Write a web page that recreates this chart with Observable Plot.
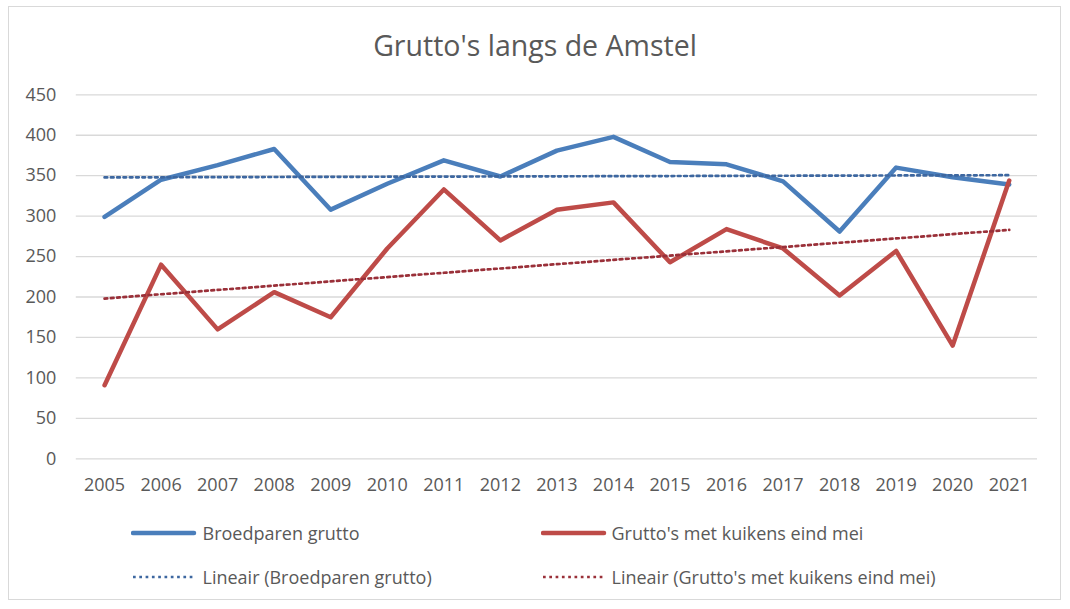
<!DOCTYPE html>
<html>
<head>
<meta charset="utf-8">
<script src="https://cdn.jsdelivr.net/npm/d3@7"></script>
<script src="https://cdn.jsdelivr.net/npm/@observablehq/plot@0.6"></script>
<style>
  html, body { margin: 0; padding: 0; background: #fff; }
  #wrap { position: relative; width: 1070px; height: 609px; overflow: hidden; font-family: "Open Sans", sans-serif; color: #595959; }
  #frame { position: absolute; left: 8px; top: 6px; width: 1053px; height: 594px; border: 1.5px solid #d9d9d9; box-sizing: border-box; }
  #title { position: absolute; left: 0; width: 1070px; top: 30.7px; text-align: center; font-size: 28.5px; line-height: 1; white-space: nowrap; }
  #chart { position: absolute; left: 0; top: 0; }
  .leg { position: absolute; font-size: 18px; line-height: 1; white-space: nowrap; }
  .sw { position: absolute; }
</style>
</head>
<body>
<div id="wrap">
  <div id="frame"></div>
  <div id="chart"></div>
  <div id="title"></div>
  <div id="legend"></div>
</div>
<script>
const title = "Grutto's langs de Amstel";
const years = [2005, 2006, 2007, 2008, 2009, 2010, 2011, 2012, 2013, 2014, 2015, 2016, 2017, 2018, 2019, 2020, 2021];
const broedparen = [299, 345, 363, 383, 308, 340, 369, 349, 381, 398, 367, 364, 343, 281, 360, 348, 339];
const kuikens = [91, 240, 160, 206, 175, 260, 333, 270, 308, 317, 243, 284, 260, 202, 257, 140, 344];
const yTicks = [0, 50, 100, 150, 200, 250, 300, 350, 400, 450];
const seriesNames = ["Broedparen grutto", "Grutto's met kuikens eind mei"];
const trendNames = ["Lineair (Broedparen grutto)", "Lineair (Grutto's met kuikens eind mei)"];
const lineColors = ["#4a7ebb", "#be4b48"];
const trendColors = ["#3d67a0", "#9a3039"];

const dataB = years.map((y, i) => ({year: y, value: broedparen[i]}));
const dataK = years.map((y, i) => ({year: y, value: kuikens[i]}));

document.getElementById("title").textContent = title;

const dots = "2.7,3.6";

const chart = Plot.plot({
  width: 1070,
  height: 510,
  marginTop: 94.3,
  marginBottom: 51.7,
  marginLeft: 75.8,
  marginRight: 33,
  style: {fontFamily: "Open Sans, sans-serif", fontSize: "18px", color: "#595959", background: "transparent", overflow: "visible"},
  x: {type: "linear", domain: [years[0] - 0.5, years[years.length - 1] + 0.5]},
  y: {domain: [0, 450]},
  marks: [
    Plot.gridY(yTicks, {stroke: "#d9d9d9", strokeOpacity: 1, strokeWidth: 1.3}),
    Plot.axisY(yTicks, {tickSize: 0, tickPadding: 20, fontSize: 18, label: null, fill: "#595959"}),
    Plot.axisX(years, {tickSize: 0, tickPadding: 19, fontSize: 18, label: null, tickFormat: d => String(d), fill: "#595959"}),
    Plot.line(dataB, {x: "year", y: "value", stroke: lineColors[0], strokeWidth: 4.5, strokeLinejoin: "round", strokeLinecap: "round"}),
    Plot.line(dataK, {x: "year", y: "value", stroke: lineColors[1], strokeWidth: 4.5, strokeLinejoin: "round", strokeLinecap: "round"}),
    Plot.linearRegressionY(dataB, {x: "year", y: "value", ci: 0, stroke: trendColors[0], strokeWidth: 2.7, strokeDasharray: dots}),
    Plot.linearRegressionY(dataK, {x: "year", y: "value", ci: 0, stroke: trendColors[1], strokeWidth: 2.7, strokeDasharray: dots})
  ]
});
document.getElementById("chart").appendChild(chart);

// legend
const leg = document.getElementById("legend");
const legendItems = [
  {name: seriesNames[0], color: lineColors[0], dotted: false, x: 133, textX: 202.5, y: 533},
  {name: seriesNames[1], color: lineColors[1], dotted: false, x: 543, textX: 611.5, y: 533},
  {name: trendNames[0], color: trendColors[0], dotted: true, x: 133, textX: 202.5, y: 576.5},
  {name: trendNames[1], color: trendColors[1], dotted: true, x: 543, textX: 611.5, y: 576.5}
];
legendItems.forEach(it => {
  const ns = "http://www.w3.org/2000/svg";
  const svg = document.createElementNS(ns, "svg");
  svg.setAttribute("class", "sw");
  svg.setAttribute("width", 66);
  svg.setAttribute("height", 10);
  svg.style.left = (it.x - 2) + "px";
  svg.style.top = (it.y - 5) + "px";
  const line = document.createElementNS(ns, "line");
  line.setAttribute("x1", 2);
  line.setAttribute("x2", 63);
  line.setAttribute("y1", 5);
  line.setAttribute("y2", 5);
  line.setAttribute("stroke", it.color);
  if (it.dotted) {
    line.setAttribute("stroke-width", 2.7);
    line.setAttribute("stroke-dasharray", dots);
  } else {
    line.setAttribute("stroke-width", 4.5);
    line.setAttribute("stroke-linecap", "round");
  }
  svg.appendChild(line);
  leg.appendChild(svg);
  const t = document.createElement("div");
  t.className = "leg";
  t.textContent = it.name;
  t.style.left = it.textX + "px";
  t.style.top = (it.y + 7 - 16) + "px";
  leg.appendChild(t);
});
</script>
</body>
</html>
